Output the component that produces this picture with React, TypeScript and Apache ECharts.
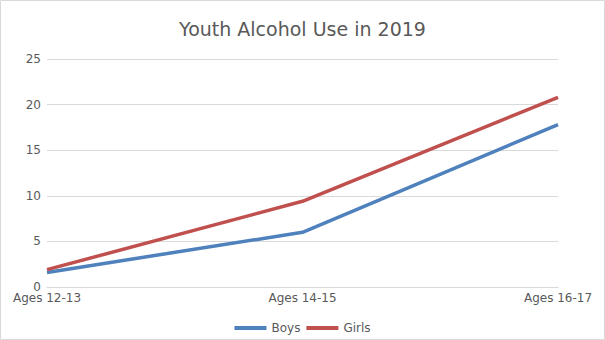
import React, { useEffect, useRef } from "react";
import * as echarts from "echarts";

const categories = ["Ages 12-13", "Ages 14-15", "Ages 16-17"];
const boys = [1.6, 6.0, 17.8];
const girls = [1.9, 9.4, 20.8];
const yTicks = { min: 0, max: 25, interval: 5 };

export default function App() {
  const ref = useRef<HTMLDivElement>(null);
  useEffect(() => {
    const chart = echarts.init(ref.current!, null, { renderer: "svg" });
    const font = "'DejaVu Sans', sans-serif";
    chart.setOption({
      animation: false,
      textStyle: { fontFamily: font },
      title: {
        text: "Youth Alcohol Use in 2019",
        left: "center",
        top: 14,
        textStyle: { fontSize: 19, fontWeight: "normal", color: "#595959", fontFamily: font },
      },
      graphic: [
        {
          type: "rect",
          shape: { x: 0.5, y: 0.5, width: 604, height: 339 },
          style: { fill: "none", stroke: "#d9d9d9", lineWidth: 1 },
          silent: true,
        },
      ],
      legend: {
        bottom: 1,
        left: "center",
        itemWidth: 32,
        itemHeight: 4,
        itemGap: 6,
        icon: "rect",
        textStyle: { fontSize: 12, color: "#595959", fontFamily: font },
        data: ["Boys", "Girls"],
      },
      grid: { left: 47, right: 47, top: 59, bottom: 53 },
      xAxis: {
        type: "category",
        data: categories,
        boundaryGap: false,
        axisLine: { lineStyle: { color: "#d9d9d9" } },
        axisTick: { show: false },
        axisLabel: { color: "#595959", fontSize: 12, margin: 5, fontFamily: font },
      },
      yAxis: {
        type: "value",
        min: yTicks.min,
        max: yTicks.max,
        interval: yTicks.interval,
        axisLine: { show: false },
        axisTick: { show: false },
        splitLine: { lineStyle: { color: "#d9d9d9" } },
        axisLabel: { color: "#595959", fontSize: 12, margin: 6, fontFamily: font },
      },
      series: [
        {
          name: "Boys",
          type: "line",
          data: boys,
          symbol: "none",
          lineStyle: { width: 3.5, color: "#4f81bd" },
          itemStyle: { color: "#4f81bd" },
        },
        {
          name: "Girls",
          type: "line",
          data: girls,
          symbol: "none",
          lineStyle: { width: 3.5, color: "#c0504d" },
          itemStyle: { color: "#c0504d" },
        },
      ],
    });
    return () => chart.dispose();
  }, []);
  return <div ref={ref} style={{ width: 605, height: 340, position: "absolute", left: 0, top: 0 }} />;
}
